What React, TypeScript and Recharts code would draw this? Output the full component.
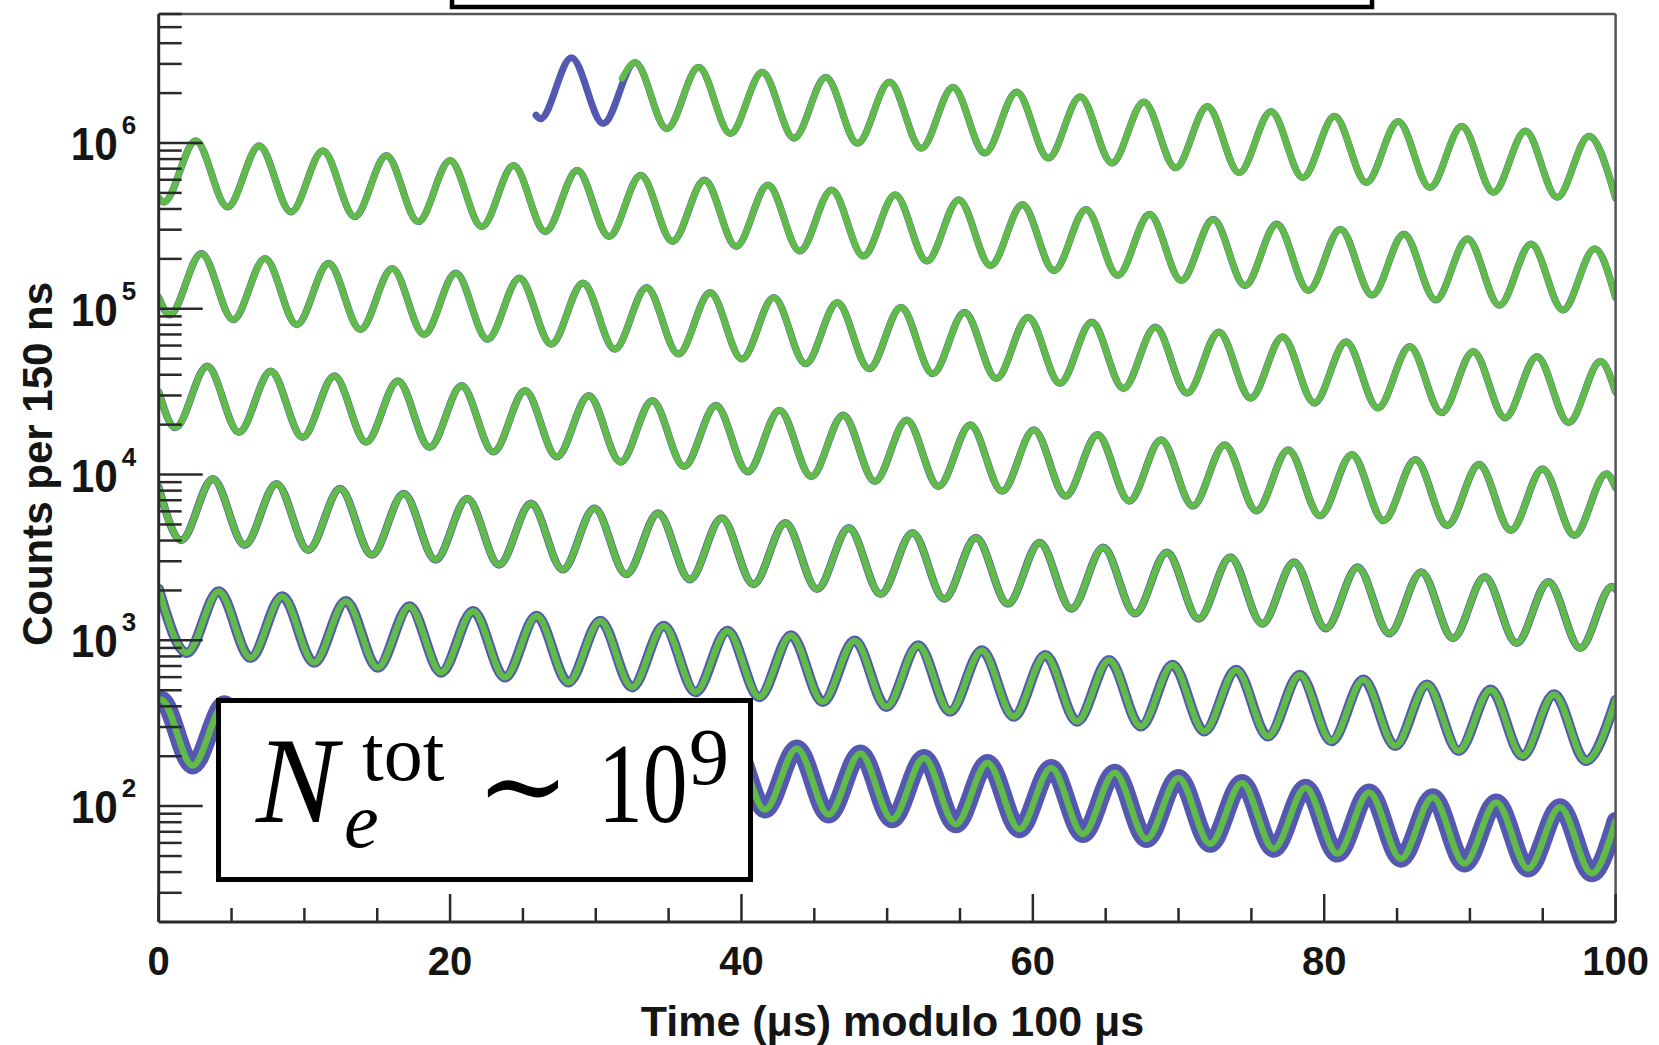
import React from "react";
import { LineChart, Line, XAxis, YAxis } from "recharts";

type Pt = [number, number];

// Each strip = 100 µs of data (time modulo 100 µs) (extrema + edges)
const strip0: Pt[] = [[25.9,1.47e6],[26.2,1.40e6],[28.33,3.27e6],[30.51,1.31e6],[32.70,3.06e6],[34.88,1.22e6],[37.06,2.86e6],[39.24,1.14e6],[41.43,2.67e6],[43.61,1.07e6],[45.79,2.49e6],[47.97,9.95e5],[50.16,2.33e6],[52.34,9.30e5],[54.52,2.17e6],[56.70,8.69e5],[58.89,2.03e6],[61.07,8.11e5],[63.25,1.90e6],[65.43,7.58e5],[67.62,1.77e6],[69.80,7.08e5],[71.98,1.66e6],[74.16,6.62e5],[76.35,1.55e6],[78.53,6.18e5],[80.71,1.45e6],[82.89,5.77e5],[85.08,1.35e6],[87.26,5.39e5],[89.44,1.26e6],[91.62,5.04e5],[93.81,1.18e6],[95.99,4.71e5],[98.17,1.10e6],[100,4.66e5]];
const fitStart0: Pt = [31.8, 2.45e6];
const strip1: Pt[] = [[0,4.66e5],[0.35,4.40e5],[2.54,1.03e6],[4.72,4.11e5],[6.90,9.61e5],[9.08,3.84e5],[11.27,8.98e5],[13.45,3.59e5],[15.63,8.39e5],[17.81,3.35e5],[20.00,7.84e5],[22.18,3.13e5],[24.36,7.32e5],[26.54,2.92e5],[28.73,6.84e5],[30.91,2.73e5],[33.09,6.39e5],[35.27,2.55e5],[37.46,5.97e5],[39.64,2.38e5],[41.82,5.58e5],[44.00,2.23e5],[46.19,5.21e5],[48.37,2.08e5],[50.55,4.87e5],[52.73,1.94e5],[54.92,4.55e5],[57.10,1.82e5],[59.28,4.25e5],[61.46,1.70e5],[63.65,3.97e5],[65.83,1.59e5],[68.01,3.71e5],[70.19,1.48e5],[72.38,3.46e5],[74.56,1.38e5],[76.74,3.24e5],[78.92,1.29e5],[81.11,3.02e5],[83.29,1.21e5],[85.47,2.82e5],[87.65,1.13e5],[89.84,2.64e5],[92.02,1.05e5],[94.20,2.46e5],[96.38,9.84e4],[98.57,2.30e5],[100,1.17e5]];
const strip2: Pt[] = [[0,1.17e5],[0.75,9.20e4],[2.93,2.15e5],[5.11,8.59e4],[7.30,2.01e5],[9.48,8.03e4],[11.66,1.88e5],[13.84,7.50e4],[16.03,1.75e5],[18.21,7.00e4],[20.39,1.64e5],[22.57,6.54e4],[24.76,1.53e5],[26.94,6.11e4],[29.12,1.43e5],[31.30,5.71e4],[33.49,1.34e5],[35.67,5.34e4],[37.85,1.25e5],[40.03,4.98e4],[42.22,1.17e5],[44.40,4.66e4],[46.58,1.09e5],[48.76,4.35e4],[50.95,1.02e5],[53.13,4.06e4],[55.31,9.51e4],[57.49,3.80e4],[59.68,8.88e4],[61.86,3.55e4],[64.04,8.30e4],[66.22,3.31e4],[68.41,7.75e4],[70.59,3.10e4],[72.77,7.24e4],[74.95,2.89e4],[77.14,6.77e4],[79.32,2.70e4],[81.50,6.32e4],[83.68,2.52e4],[85.87,5.91e4],[88.05,2.36e4],[90.23,5.52e4],[92.41,2.20e4],[94.60,5.15e4],[96.78,2.06e4],[98.96,4.82e4],[100,3.15e4]];
const strip3: Pt[] = [[0,3.15e4],[1.14,1.92e4],[3.33,4.50e4],[5.51,1.80e4],[7.69,4.20e4],[9.87,1.68e4],[12.06,3.93e4],[14.24,1.57e4],[16.42,3.67e4],[18.60,1.46e4],[20.79,3.43e4],[22.97,1.37e4],[25.15,3.20e4],[27.33,1.28e4],[29.52,2.99e4],[31.70,1.19e4],[33.88,2.79e4],[36.06,1.12e4],[38.25,2.61e4],[40.43,1.04e4],[42.61,2.44e4],[44.79,9.74e3],[46.98,2.28e4],[49.16,9.10e3],[51.34,2.13e4],[53.52,8.50e3],[55.71,1.99e4],[57.89,7.94e3],[60.07,1.86e4],[62.25,7.42e3],[64.44,1.74e4],[66.62,6.93e3],[68.80,1.62e4],[70.98,6.47e3],[73.17,1.51e4],[75.35,6.05e3],[77.53,1.41e4],[79.71,5.65e3],[81.90,1.32e4],[84.08,5.28e3],[86.26,1.23e4],[88.44,4.93e3],[90.63,1.15e4],[92.81,4.61e3],[94.99,1.08e4],[97.17,4.30e3],[99.36,1.01e4],[100,8.37e3]];
const strip4: Pt[] = [[0,8.37e3],[1.54,4.02e3],[3.72,9.41e3],[5.90,3.76e3],[8.09,8.79e3],[10.27,3.51e3],[12.45,8.21e3],[14.63,3.28e3],[16.82,7.67e3],[19.00,3.06e3],[21.18,7.16e3],[23.36,2.86e3],[25.55,6.69e3],[27.73,2.67e3],[29.91,6.25e3],[32.09,2.50e3],[34.28,5.84e3],[36.46,2.33e3],[38.64,5.46e3],[40.82,2.18e3],[43.01,5.10e3],[45.19,2.04e3],[47.37,4.76e3],[49.55,1.90e3],[51.74,4.45e3],[53.92,1.78e3],[56.10,4.16e3],[58.28,1.66e3],[60.47,3.88e3],[62.65,1.55e3],[64.83,3.63e3],[67.01,1.45e3],[69.20,3.39e3],[71.38,1.35e3],[73.56,3.17e3],[75.74,1.26e3],[77.93,2.96e3],[80.11,1.18e3],[82.29,2.76e3],[84.47,1.10e3],[86.66,2.58e3],[88.84,1.03e3],[91.02,2.41e3],[93.20,963],[95.39,2.25e3],[97.57,900],[99.75,2.11e3],[100,2.04e3]];
const strip5: Pt[] = [[0,2.04e3],[1.93,841],[4.12,1.97e3],[6.30,785],[8.48,1.84e3],[10.66,734],[12.85,1.72e3],[15.03,685],[17.21,1.60e3],[19.39,640],[21.58,1.50e3],[23.76,598],[25.94,1.40e3],[28.12,559],[30.31,1.31e3],[32.49,522],[34.67,1.22e3],[36.85,488],[39.04,1.14e3],[41.22,456],[43.40,1.07e3],[45.58,426],[47.77,996],[49.95,398],[52.13,930],[54.31,372],[56.50,869],[58.68,347],[60.86,812],[63.04,324],[65.23,759],[67.41,303],[69.59,709],[71.77,283],[73.96,662],[76.14,264],[78.32,618],[80.50,247],[82.69,578],[84.87,231],[87.05,540],[89.23,216],[91.42,504],[93.60,201],[95.78,471],[97.96,188],[100,436]];
const strip6: Pt[] = [[0,436],[0.15,440],[2.33,176],[4.51,411],[6.69,164],[8.88,384],[11.06,153],[13.24,359],[15.42,143],[17.61,335],[19.79,134],[21.97,313],[24.15,125],[26.34,293],[28.52,117],[30.70,273],[32.88,109],[35.07,255],[37.25,102],[39.43,239],[41.61,95.3],[43.80,223],[45.98,89.0],[48.16,208],[50.34,83.2],[52.53,195],[54.71,77.7],[56.89,182],[59.07,72.6],[61.26,170],[63.44,67.8],[65.62,159],[67.80,63.3],[69.99,148],[72.17,59.2],[74.35,138],[76.53,55.3],[78.72,129],[80.90,51.7],[83.08,121],[85.26,48.2],[87.45,113],[89.63,45.1],[91.81,105],[93.99,42.1],[96.18,98.5],[98.36,39.3],[100,81.4]];

const xTicks = [0,5,10,15,20,25,30,35,40,45,50,55,60,65,70,75,80,85,90,95,100];
const xMajor = [0,20,40,60,80,100];
const yTicks = [30,40,50,60,70,80,90,100,200,300,400,500,600,700,800,900,1e3,2e3,3e3,4e3,5e3,6e3,7e3,8e3,9e3,1e4,2e4,3e4,4e4,5e4,6e4,7e4,8e4,9e4,1e5,2e5,3e5,4e5,5e5,6e5,7e5,8e5,9e5,1e6,2e6,3e6,4e6,5e6,6e6];
const yMajor = [100,1e3,1e4,1e5,1e6];
const yMajorExp = ["2","3","4","5","6"];

const BLUE = "#5558b0";
const GREEN = "#60bb48";
const AXIS = "#2a2a2a";
const SANS = "'Liberation Sans', Arial, Helvetica, sans-serif";
const SERIF = "'Liberation Serif', 'DejaVu Serif', serif";

const toRows = (a: Pt[]) => a.map(([x, y]) => ({ x, y }));

const strips = [strip0, strip1, strip2, strip3, strip4, strip5, strip6];
const blueWidth = [7, 7.1, 7.2, 7.4, 7.9, 10.5, 18];

const fit0: Pt[] = [fitStart0, ...strip0.filter((p) => p[0] > fitStart0[0])];
const fits = [fit0, strip1, strip2, strip3, strip4, strip5, strip6];

function YTick(props: any) {
  const { x, y, payload } = props;
  const idx = yMajor.indexOf(payload.value);
  const major = idx >= 0;
  return (
    <g>
      <line x1={x} y1={y} x2={x + (major ? 44 : 23)} y2={y} stroke={AXIS} strokeWidth={2.5} />
      {major && (
        <g>
          <text
            transform={`translate(${x - 41},${y + 17}) scale(0.9,1)`}
            textAnchor="end"
            fontFamily={SANS}
            fontWeight="bold"
            fontSize={47}
            fill="#151515"
          >
            10
          </text>
          <text x={x - 37} y={y - 9} fontFamily={SANS} fontWeight="bold" fontSize={26} fill="#151515">
            {yMajorExp[idx]}
          </text>
        </g>
      )}
    </g>
  );
}

function XTick(props: any) {
  const { x, y, payload } = props;
  const major = xMajor.indexOf(payload.value) >= 0;
  return (
    <g>
      <line x1={x} y1={y} x2={x} y2={y - (major ? 28 : 14)} stroke={AXIS} strokeWidth={2.5} />
      {major && (
        <text x={x} y={y + 53} textAnchor="middle" fontFamily={SANS} fontWeight="bold" fontSize={40} fill="#151515">
          {payload.value}
        </text>
      )}
    </g>
  );
}

export default function App() {
  return (
    <div style={{ position: "absolute", left: 0, top: 0, width: 1659, height: 1045, background: "#fff" }}>
      <LineChart width={1659} height={1045} margin={{ top: 13, right: 42.4, bottom: 122, left: 157.7 }}>
        <XAxis
          dataKey="x"
          type="number"
          domain={[0, 100]}
          allowDataOverflow
          ticks={xTicks}
          interval={0}
          tickSize={0}
          tickMargin={0}
          tickLine={false}
          height={1}
          axisLine={{ stroke: AXIS, strokeWidth: 3 }}
          tick={XTick}
        />
        <XAxis
          xAxisId="top"
          orientation="top"
          dataKey="x"
          type="number"
          domain={[0, 100]}
          ticks={[0, 100]}
          height={1}
          tick={false}
          tickLine={false}
          axisLine={{ stroke: "#555", strokeWidth: 2.5 }}
        />
        <YAxis
          type="number"
          scale="log"
          domain={[20, 6e6]}
          allowDataOverflow
          ticks={yTicks}
          interval={0}
          tickSize={0}
          tickMargin={0}
          tickLine={false}
          width={1}
          axisLine={{ stroke: AXIS, strokeWidth: 3 }}
          tick={YTick}
        />
        <YAxis
          yAxisId="right"
          orientation="right"
          type="number"
          scale="log"
          domain={[20, 6e6]}
          allowDataOverflow
          ticks={[100, 1e6]}
          width={1}
          tick={false}
          tickLine={false}
          axisLine={{ stroke: "#555", strokeWidth: 2.5 }}
        />
        {strips.map((s, i) => (
          <Line
            key={`d${i}`}
            data={toRows(s)}
            dataKey="y"
            type="monotone"
            stroke={BLUE}
            strokeWidth={blueWidth[i]}
            strokeLinejoin="round"
            strokeLinecap="round"
            dot={false}
            isAnimationActive={false}
          />
        ))}
        {fits.map((s, i) => (
          <Line
            key={`f${i}`}
            data={toRows(s)}
            dataKey="y"
            type="monotone"
            stroke={GREEN}
            strokeWidth={6.5}
            strokeLinejoin="round"
            strokeLinecap="round"
            dot={false}
            isAnimationActive={false}
          />
        ))}
      </LineChart>
      <svg
        width={1659}
        height={1045}
        style={{ position: "absolute", left: 0, top: 0, pointerEvents: "none" }}
      >
        <rect x={452} y={-20} width={920} height={27} fill="#fff" stroke="#000" strokeWidth={4.5} />
        <rect x={218.5} y={700.5} width={532} height={179} fill="#fff" stroke="#000" strokeWidth={5} />
        <text fontFamily={SERIF} fill="#000">
          <tspan x={256} y={822} fontSize={122} fontStyle="italic">N</tspan>
          <tspan x={362} y={780} fontSize={78}>tot</tspan>
          <tspan x={344} y={847} fontSize={78} fontStyle="italic">e</tspan>
        </text>
        <text x={476} y={824} fontSize={112} fontFamily="'DejaVu Serif', serif" fill="#000">∼</text>
        <text transform="translate(598,822) scale(0.78,1)" fontFamily={SERIF} fontSize={115} fill="#000">10</text>
        <text x={689} y={784} fontFamily={SERIF} fontSize={80} fill="#000">9</text>
        <text
          transform="translate(52,464) rotate(-90)"
          textAnchor="middle"
          fontFamily={SANS}
          fontWeight="bold"
          fontSize={42}
          fill="#151515"
        >
          Counts per 150 ns
        </text>
        <text x={892.5} y={1036} textAnchor="middle" fontFamily={SANS} fontWeight="bold" fontSize={43} fill="#151515">
          Time (μs) modulo 100 μs
        </text>
      </svg>
    </div>
  );
}
